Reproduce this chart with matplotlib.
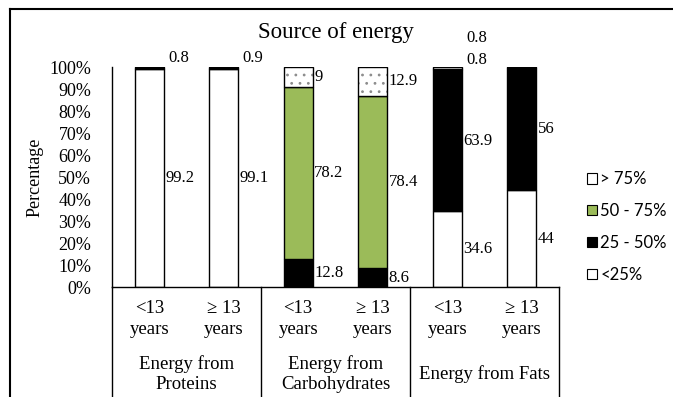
import matplotlib
matplotlib.use("Agg")
import matplotlib.pyplot as plt
from matplotlib.lines import Line2D
from matplotlib.patches import Patch
import numpy as np

plt.rcParams['font.family'] = ['Liberation Serif', 'DejaVu Serif']
plt.rcParams['hatch.linewidth'] = 0.8

# ---- data ----
categories = ['<13\nyears', '≥ 13\nyears', '<13\nyears', '≥ 13\nyears', '<13\nyears', '≥ 13\nyears']
groups = ['Energy from\nProteins', 'Energy from\nCarbohydrates', 'Energy from Fats']
lt25 = [99.2, 99.1, 0, 0, 34.6, 44]
p25_50 = [0.8, 0.9, 12.8, 8.6, 63.9, 56]
p50_75 = [0, 0, 78.2, 78.4, 0.8, 0]
gt75 = [0, 0, 9, 12.9, 0.8, 0]
series_names = ['> 75%', '50 - 75%', '25 - 50%', '<25%']
yticks = [0, 10, 20, 30, 40, 50, 60, 70, 80, 90, 100]

GREEN = '#9BBB59'
DOT = '#8C8C8C'

fig = plt.figure(figsize=(6.73, 3.97), dpi=100)
ax = fig.add_axes([112/673, 1-287/397, (559-112)/673, (287-67)/397])

x = np.arange(len(categories))
w = 0.39
stack = [(lt25, 'white', None), (p25_50, 'black', None), (p50_75, GREEN, None), (gt75, 'white', '..')]
bottom = np.zeros(len(categories))
for vals, col, hatch in stack:
    v = np.array(vals, dtype=float)
    if hatch:
        ax.bar(x, v, w, bottom=bottom, color=col, edgecolor=DOT, linewidth=0, hatch=hatch, zorder=2)
        ax.bar(x, v, w, bottom=bottom, fill=False, edgecolor='black', linewidth=1.0, zorder=3)
    else:
        ax.bar(x, v, w, bottom=bottom, color=col, edgecolor='black', linewidth=1.0, zorder=2)
    bottom += v

# data labels
lab_fs = 12
for i in range(len(categories)):
    cum = 0.0
    tiny_k = 0
    for vals, _, _ in stack:
        v = vals[i]
        if v > 0:
            txt = ('%g' % v)
            if v < 2:
                ax.text(i + w/2 + 0.06, cum + v + 4 + 9*tiny_k, txt, ha='left', va='center', fontsize=lab_fs)
                tiny_k += 1
            else:
                ax.text(i + w/2 + 0.02, cum + v/2, txt, ha='left', va='center', fontsize=lab_fs)
        cum += v

ax.set_xlim(-0.5, len(categories) - 0.5)
ax.set_ylim(0, 100)
ax.set_yticks(yticks)
ax.set_yticklabels(['%d%%' % t for t in yticks], fontsize=13)
ax.tick_params(axis='y', length=0, pad=15)
ax.set_xticks([])
for s in ['top', 'right']:
    ax.spines[s].set_visible(False)
ax.spines['left'].set_linewidth(1.0)
ax.spines['bottom'].set_linewidth(1.0)
ax.set_ylabel('Percentage', fontsize=13, labelpad=4)

# category axis: two-level labels and dividers
trans = ax.get_xaxis_transform()
for d in [-0.5, 1.5, 3.5, 5.5]:
    ax.plot([d, d], [0, -0.55], color='black', lw=1.0, transform=trans, clip_on=False)
for i, c in enumerate(categories):
    ax.text(i, -0.145, c, ha='center', va='center', fontsize=13.5, transform=trans, linespacing=1.25)
for g, gname in enumerate(groups):
    ax.text(2*g + 0.5, -0.395, gname, ha='center', va='center', fontsize=13.5, transform=trans, linespacing=1.25)

ax.set_title('Source of energy', fontsize=16.5, pad=21)

handles = [Patch(facecolor='white', edgecolor='black', linewidth=0.8),
           Patch(facecolor=GREEN, edgecolor='black', linewidth=0.8),
           Patch(facecolor='black', edgecolor='black', linewidth=0.8),
           Patch(facecolor='white', edgecolor='black', linewidth=0.8)]
leg = fig.legend(handles, series_names, loc='center left', bbox_to_anchor=(572/673, 1-227/397),
                 frameon=False, prop={'family': 'Lato', 'size': 12}, handlelength=0.6, handleheight=0.6,
                 handletextpad=0.2, labelspacing=0.95)

# outer frame
fig.add_artist(Line2D([10/673, 10/673], [0, 1-9/397], color='black', lw=1.5, transform=fig.transFigure))
fig.add_artist(Line2D([10/673, 1], [1-9/397, 1-9/397], color='black', lw=1.5, transform=fig.transFigure))

fig.savefig('out.png', dpi=100)
